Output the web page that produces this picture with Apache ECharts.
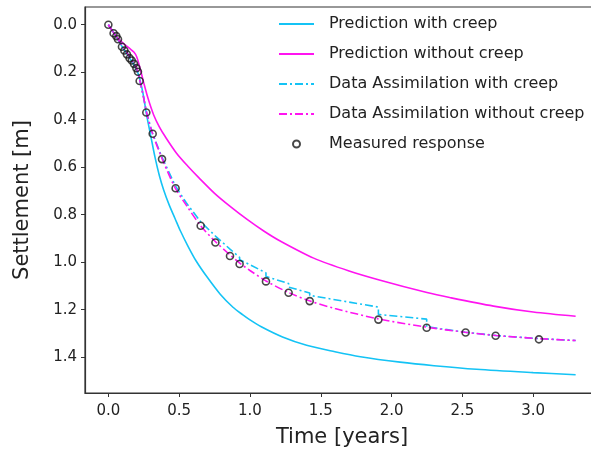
<!DOCTYPE html>
<html>
<head>
<meta charset="utf-8">
<script src="https://cdn.jsdelivr.net/npm/echarts@6/dist/echarts.min.js"></script>
<style>
html,body{margin:0;padding:0;background:#fff;}
#c{width:591px;height:451px;}
</style>
</head>
<body>
<div id="c"></div>
<script>
// ---- data ----
const xTicks = [0, 0.5, 1.0, 1.5, 2.0, 2.5, 3.0];
const yTicks = [0, 0.2, 0.4, 0.6, 0.8, 1.0, 1.2, 1.4];

const measuredT = [0, 0.037, 0.056, 0.068, 0.096, 0.113, 0.131, 0.150, 0.165, 0.181, 0.198, 0.209, 0.221, 0.268, 0.313, 0.379, 0.475, 0.652, 0.756, 0.859, 0.927, 1.113, 1.273, 1.422, 1.907, 2.248, 2.523, 2.735, 3.041];
const measuredS = [0, 0.036, 0.048, 0.061, 0.093, 0.109, 0.125, 0.141, 0.151, 0.165, 0.183, 0.198, 0.237, 0.370, 0.459, 0.566, 0.689, 0.847, 0.917, 0.974, 1.008, 1.081, 1.129, 1.164, 1.242, 1.276, 1.296, 1.310, 1.325];

const predCreepT = [0, 0.05, 0.1, 0.15, 0.2, 0.22, 0.245, 0.27, 0.3, 0.33, 0.36, 0.39, 0.43, 0.47, 0.51, 0.56, 0.62, 0.7, 0.79, 0.88, 0.95, 1.0, 1.08, 1.23, 1.4, 1.6, 1.78, 2.06, 2.3, 2.6, 3.0, 3.3];
const predCreepS = [0, 0.045, 0.095, 0.14, 0.19, 0.225, 0.29, 0.38, 0.47, 0.56, 0.635, 0.695, 0.76, 0.815, 0.87, 0.93, 0.995, 1.065, 1.135, 1.19, 1.222, 1.243, 1.272, 1.315, 1.35, 1.377, 1.398, 1.421, 1.436, 1.451, 1.465, 1.474];

const predNoCreepT = [0, 0.05, 0.1, 0.15, 0.18, 0.2, 0.22, 0.25, 0.28, 0.32, 0.36, 0.4, 0.48, 0.56, 0.64, 0.75, 0.86, 0.98, 1.1, 1.21, 1.45, 1.7, 1.92, 2.25, 2.41, 2.72, 3.0, 3.3];
const predNoCreepS = [0, 0.045, 0.075, 0.10, 0.115, 0.135, 0.175, 0.245, 0.31, 0.38, 0.43, 0.47, 0.54, 0.595, 0.645, 0.71, 0.765, 0.82, 0.87, 0.91, 0.983, 1.037, 1.076, 1.128, 1.149, 1.185, 1.21, 1.228];

const daCreepT = [0, 0.05, 0.1, 0.15, 0.2, 0.22, 0.25, 0.27, 0.31, 0.38, 0.47, 0.55, 0.652, 0.756, 0.756, 0.859, 0.859, 0.927, 0.927, 1.0, 1.113, 1.113, 1.273, 1.273, 1.422, 1.422, 1.907, 1.907, 2.248, 2.248, 2.52, 2.74, 3.04, 3.3];
const daCreepS = [0, 0.045, 0.09, 0.135, 0.185, 0.23, 0.31, 0.37, 0.455, 0.56, 0.675, 0.75, 0.83, 0.89, 0.897, 0.945, 0.952, 0.98, 0.99, 1.011, 1.045, 1.06, 1.09, 1.105, 1.13, 1.14, 1.189, 1.22, 1.24, 1.272, 1.295, 1.309, 1.322, 1.33];

const daNoCreepT = [0, 0.05, 0.1, 0.15, 0.2, 0.22, 0.25, 0.27, 0.31, 0.38, 0.47, 0.55, 0.65, 0.75, 0.86, 0.93, 1.0, 1.11, 1.27, 1.42, 1.6, 1.9, 2.25, 2.52, 2.74, 3.04, 3.3];
const daNoCreepS = [0, 0.045, 0.09, 0.135, 0.185, 0.23, 0.31, 0.37, 0.455, 0.565, 0.685, 0.76, 0.845, 0.91, 0.97, 1.005, 1.035, 1.078, 1.127, 1.163, 1.195, 1.238, 1.274, 1.295, 1.309, 1.322, 1.33];

const names = ['Prediction with creep', 'Prediction without creep', 'Data Assimilation with creep', 'Data Assimilation without creep', 'Measured response'];

const CYAN = '#14c3f5';
const MAG = '#ff14f0';
const FONT = 'DejaVu Sans';
const DASHDOT = [8, 3, 2, 3];

const zip = (a, b) => a.map((v, i) => [v, b[i]]);

const chart = echarts.init(document.getElementById('c'), null, {renderer: 'canvas'});

const legendText = {fontFamily: FONT, fontSize: 16, color: '#222', lineHeight: 18, padding: [0, 0, 0, 10]};

chart.setOption({
  animation: false,
  backgroundColor: '#fff',
  grid: {left: 85, top: 7, right: -8, bottom: 58, show: true, borderColor: '#333', borderWidth: 1.2, outerBoundsMode: 'none', containLabel: false},
  legend: [
    {data: names.slice(0, 4), orient: 'vertical', left: 278, top: 15, padding: 0, itemWidth: 35, itemHeight: 14, itemGap: 12,
     textStyle: legendText, itemStyle: {opacity: 0}, selectedMode: false},
    {data: [names[4]], orient: 'vertical', left: 292, top: 135, padding: 0, itemWidth: 35, itemHeight: 7,
     textStyle: legendText, selectedMode: false}
  ],
  xAxis: {
    type: 'value', min: -0.165, max: 3.465,
    name: 'Time [years]', nameLocation: 'middle', nameGap: 34,
    nameTextStyle: {fontFamily: FONT, fontSize: 21, color: '#222'},
    axisLine: {show: true, onZero: false, lineStyle: {color: '#333', width: 1.2}},
    axisTick: {show: true, customValues: xTicks, length: 4, lineStyle: {color: '#333', width: 1}},
    axisLabel: {customValues: xTicks, formatter: v => v.toFixed(1), fontFamily: FONT, fontSize: 15, color: '#222', margin: 11},
    splitLine: {show: false}
  },
  yAxis: {
    type: 'value', inverse: true, min: -0.0745, max: 1.551,
    name: 'Settlement [m]', nameLocation: 'middle', nameGap: 52,
    nameTextStyle: {fontFamily: FONT, fontSize: 21, color: '#222'},
    axisLine: {show: true, onZero: false, lineStyle: {color: '#333', width: 1.2}},
    axisTick: {show: true, customValues: yTicks, length: 4, lineStyle: {color: '#333', width: 1}},
    axisLabel: {customValues: yTicks, formatter: v => v.toFixed(1), fontFamily: FONT, fontSize: 15, color: '#222', margin: 8},
    splitLine: {show: false}
  },
  series: [
    {name: names[0], type: 'line', data: zip(predCreepT, predCreepS), symbol: 'none', smooth: 0.3,
     lineStyle: {color: CYAN, width: 1.6}, itemStyle: {color: CYAN}},
    {name: names[1], type: 'line', data: zip(predNoCreepT, predNoCreepS), symbol: 'none', smooth: 0.3,
     lineStyle: {color: MAG, width: 1.6}, itemStyle: {color: MAG}},
    {name: names[2], type: 'line', data: zip(daCreepT, daCreepS), symbol: 'none', smooth: false,
     lineStyle: {color: CYAN, width: 1.6, type: DASHDOT}, itemStyle: {color: CYAN}},
    {name: names[3], type: 'line', data: zip(daNoCreepT, daNoCreepS), symbol: 'none', smooth: 0.3,
     lineStyle: {color: MAG, width: 1.6, type: DASHDOT}, itemStyle: {color: MAG}},
    {name: names[4], type: 'scatter', data: zip(measuredT, measuredS), symbol: 'circle', symbolSize: 7,
     itemStyle: {color: 'rgba(0,0,0,0)', borderColor: '#1a1a1a', borderWidth: 1.6}, z: 5}
  ]
});
</script>
</body>
</html>
